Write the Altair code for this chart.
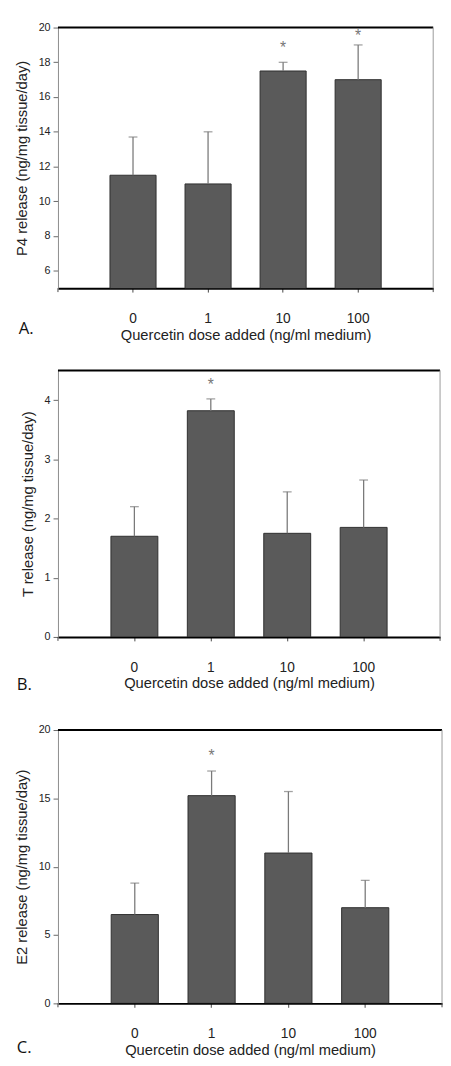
import altair as alt
import pandas as pd

doses = ["0", "1", "10", "100"]

p4_mean = [11.5, 11.0, 17.5, 17.0]
p4_top = [13.7, 14.0, 18.0, 19.0]
p4_star = [None, None, 19.0, 19.65]

t_mean = [1.70, 3.82, 1.75, 1.85]
t_top = [2.20, 4.02, 2.45, 2.65]
t_star = [None, 4.31, None, None]

e2_mean = [6.5, 15.2, 11.0, 7.0]
e2_top = [8.8, 17.0, 15.5, 9.0]
e2_star = [None, 18.3, None, None]

XTITLE = "Quercetin dose added (ng/ml medium)"
FONT = "Liberation Sans, Arial, Helvetica, sans-serif"
BAR = "#5a5a5a"
ERR = "#7a7a7a"


def panel(means, tops, star, domain, ticks, ytitle, letter, width, height,
          letter_x, letter_dy, left_edge):
    df = pd.DataFrame({"dose": doses, "mean": means, "top": tops, "star": star})
    xenc = alt.X(
        "dose:N",
        sort=doses,
        scale=alt.Scale(paddingInner=0.386, paddingOuter=0.693),
        axis=alt.Axis(
            title=XTITLE, labelAngle=0, domainColor="black", domainWidth=2,
            ticks=True, tickColor="#444", tickSize=4, tickWidth=1,
            labelPadding=20, titlePadding=2,
            labelFontSize=14, titleFontSize=15,
        ),
    )
    yscale = alt.Scale(domain=domain, nice=False, zero=False)
    yaxis = alt.Axis(
        values=ticks, grid=False, domainColor="#8a8a8a", domainWidth=1,
        tickColor="#666", tickSize=5, labelPadding=3, titlePadding=9,
        labelFontSize=11, titleFontSize=15, title=ytitle,
    )
    bars = alt.Chart(df).mark_bar(
        color=BAR, stroke="#2e2e2e", strokeWidth=1, clip=True
    ).encode(
        x=xenc,
        y=alt.Y("mean:Q", scale=yscale, axis=yaxis),
    )
    err = alt.Chart(df).mark_rule(color=ERR, strokeWidth=1.3).encode(
        x=xenc,
        y=alt.Y("mean:Q", scale=yscale, axis=yaxis),
        y2="top:Q",
    )
    cap = alt.Chart(df).mark_tick(color=ERR, size=9, thickness=1.3).encode(
        x=xenc,
        y=alt.Y("top:Q", scale=yscale, axis=yaxis),
    )
    stars = alt.Chart(df).transform_filter("isValid(datum.star)").mark_text(
        text="*", fontSize=16, color="#777", baseline="middle", dy=3, font=FONT
    ).encode(
        x=xenc,
        y=alt.Y("star:Q", scale=yscale, axis=yaxis),
    )
    one = pd.DataFrame({"k": [0]})
    top_line = alt.Chart(one).mark_rule(color="black", strokeWidth=2).encode(
        x=alt.value(0), x2=alt.value(width), y=alt.value(0)
    )
    right_line = alt.Chart(one).mark_rule(color="#9a9a9a", strokeWidth=1).encode(
        x=alt.value(width), y=alt.value(0), y2=alt.value(height)
    )
    left_tick = alt.Chart(one).mark_rule(color="#444", strokeWidth=1).encode(
        x=alt.value(0), y=alt.value(height), y2=alt.value(height + 4)
    )
    right_tick = alt.Chart(one).mark_rule(color="#444", strokeWidth=1).encode(
        x=alt.value(width), y=alt.value(height), y2=alt.value(height + 4)
    )
    edge = alt.Chart(one).mark_rule(color="white", strokeWidth=1).encode(
        x=alt.value(left_edge), y=alt.value(height / 2), y2=alt.value(height / 2 + 1)
    )
    lab = alt.Chart(one).mark_text(
        text=letter, font="Open Sans", fontSize=17, align="left",
        baseline="middle", color="#111"
    ).encode(x=alt.value(letter_x), y=alt.value(height + letter_dy))
    return alt.layer(
        bars, err, cap, stars, top_line, right_line, left_tick, right_tick,
        edge, lab
    ).properties(width=width, height=height)


a = panel(p4_mean, p4_top, p4_star, [5, 20], [6, 8, 10, 12, 14, 16, 18, 20],
          "P4 release (ng/mg tissue/day)", "A.", 383, 266, -40, 42, -47)
b = panel(t_mean, t_top, t_star, [0, 4.5], [0, 1, 2, 3, 4],
          "T release (ng/mg tissue/day)", "B.", 390, 272, -42, 49, -49)
c = panel(e2_mean, e2_top, e2_star, [0, 20], [0, 5, 10, 15, 20],
          "E2 release (ng/mg tissue/day)", "C.", 392, 279, -42, 46, -49)

chart = alt.vconcat(
    alt.vconcat(a, b, spacing=28), c, spacing=32
).properties(
    padding={"left": 1, "top": 3, "right": 0, "bottom": 0}
).configure_view(stroke=None).configure_axis(
    labelFont=FONT, titleFont=FONT, labelColor="#222", titleColor="#222",
    titleFontWeight="normal",
)

chart.save("out.html", embed_options={"renderer": "svg", "actions": False})
